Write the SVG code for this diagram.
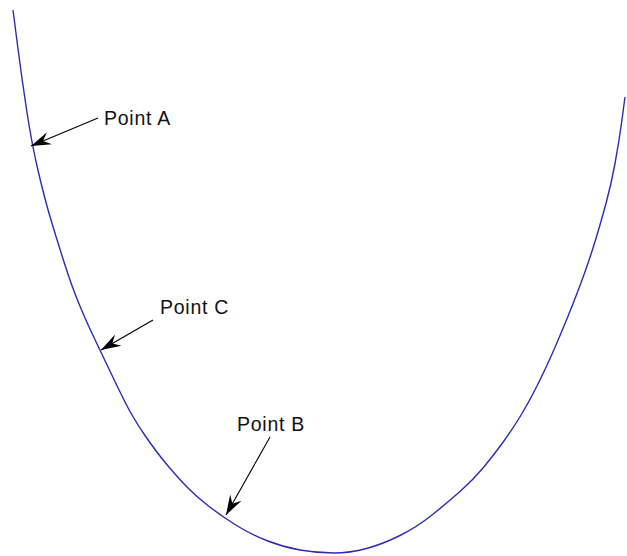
<svg xmlns="http://www.w3.org/2000/svg" width="627" height="556" viewBox="0 0 627 556">
<style>
.curve{fill:none;stroke:#2c2cb0;stroke-width:1.4;stroke-linejoin:round}
.conn{stroke:#000;stroke-width:1.1;fill:none;marker-end:url(#arr)}
.lbl{font-family:"Liberation Sans",Arial,sans-serif;font-size:19.5px;letter-spacing:0.75px;fill:#111}
</style>
<defs>
<marker id="arr" viewBox="-21 -8 22 16" refX="0" refY="0" markerWidth="22" markerHeight="16" markerUnits="userSpaceOnUse" orient="auto">
<path d="M0,0 L-20,-6.5 L-13,0 L-20,6.5 Z" fill="#000"/>
</marker>
</defs>
<rect width="627" height="556" fill="#fff"/>
<g id="curve">
<path class="curve" d="M13,10 L17.5,45 Q22,80 27,112.5 Q32,145 38.5,172.5 Q45,200 51,220 Q57,240 64.5,263.5 Q72,287 79.5,305 Q87,323 93.5,336.5 Q100,350 108.5,368 Q117,386 125,402 Q133,418 145,435.5 Q157,453 168.5,466.5 Q180,480 188.5,488.5 Q197,497 208.5,506 Q220,515 235,524.5 Q250,534 266.5,540.5 Q283,547 300,550 Q317,553 333.5,553 Q350,553 366.5,548.5 Q383,544 400,535.5 Q417,527 432,515 Q447,503 460,491.5 Q473,480 483,468 Q493,456 502.5,443 Q512,430 520.5,416 Q529,402 537,386 Q545,370 552.5,353 Q560,336 568.5,315 Q577,294 583.5,276 Q590,258 595.5,240 Q601,222 606,203.5 Q611,185 615,163.5 Q619,142 622,119.5 L625,97"/>
</g>
<g id="connectors">
<line class="conn" x1="98" y1="118" x2="31" y2="146"/>
<line class="conn" x1="153" y1="320" x2="101" y2="350"/>
<line class="conn" x1="270" y1="437" x2="226" y2="515"/>
</g>
<g id="pointA"><text class="lbl" x="104" y="125">Point A</text></g>
<g id="pointC"><text class="lbl" x="160" y="314">Point C</text></g>
<g id="pointB"><text class="lbl" x="237" y="431">Point B</text></g>
</svg>
